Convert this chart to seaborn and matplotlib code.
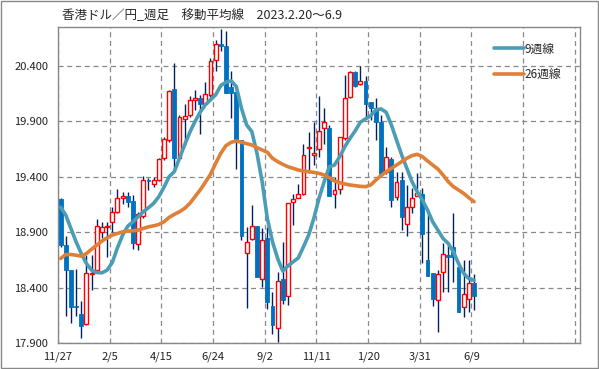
import matplotlib
matplotlib.use("Agg")
import matplotlib.pyplot as plt
from matplotlib.patches import Rectangle
import seaborn as sns
import pandas as pd
import numpy as np

# weekly candles (index 0 = week of 11/27)
opens = [19.198, 18.783, 18.557, 18.235, 18.165, 18.075, 18.520, 18.557, 18.903, 18.950,
         18.993, 19.084, 19.210, 19.230, 19.180, 18.789, 19.042, 19.370, 19.330, 19.373,
         19.566, 19.731, 20.192, 19.572, 19.924, 19.954, 20.090, 20.108, 20.060, 20.138,
         20.454, 20.596, 20.580, 20.213, 20.168, 19.731, 18.713, 18.834, 18.954, 18.475,
         18.849, 18.231, 18.036, 18.475, 18.325, 19.174, 19.204, 19.240, 19.660, 19.596,
         19.647, 19.837, 19.837, 19.240, 19.286, 19.746, 20.123, 20.343, 20.240, 20.264,
         20.072, 20.017, 19.897, 19.439, 19.557, 19.219, 19.370, 18.969, 19.129, 19.228,
         19.240, 18.653, 18.527, 18.286, 18.536, 18.690, 18.764, 18.581, 18.225, 18.301,
         18.442]
closes = [18.783, 18.557, 18.225, 18.225, 18.054, 18.527, 18.530, 18.951, 18.942, 18.955,
          19.084, 19.204, 19.230, 19.174, 18.804, 19.060, 19.367, 19.360, 19.367, 19.557,
          19.737, 20.174, 19.566, 19.936, 19.948, 20.090, 20.108, 20.060, 20.144, 20.445,
          20.596, 20.575, 20.159, 20.159, 19.731, 18.864, 18.807, 18.954, 18.496, 18.828,
          18.271, 18.066, 18.460, 18.286, 19.159, 19.198, 19.240, 19.596, 19.665, 19.617,
          19.813, 19.891, 19.228, 19.280, 19.755, 20.108, 20.343, 20.222, 20.264, 20.054,
          20.017, 19.897, 19.421, 19.575, 19.189, 19.349, 19.039, 19.123, 19.204, 19.249,
          18.882, 18.505, 18.301, 18.518, 18.704, 18.680, 18.677, 18.180, 18.346, 18.445,
          18.325]
highs = [19.210, 18.867, 18.560, 18.563, 18.283, 18.692, 18.692, 19.014, 18.993, 18.993,
         19.129, 19.289, 19.264, 19.264, 19.234, 19.084, 19.409, 19.385, 19.394, 19.566,
         19.761, 20.180, 20.424, 19.957, 20.060, 20.132, 20.180, 20.138, 20.252, 20.469,
         20.635, 20.731, 20.710, 20.349, 20.183, 19.731, 18.948, 19.144, 18.954, 18.933,
         18.948, 18.361, 18.536, 18.813, 19.159, 19.240, 19.330, 19.695, 19.800, 19.897,
         20.129, 20.017, 19.867, 19.400, 19.755, 20.319, 20.355, 20.355, 20.400, 20.304,
         20.072, 20.108, 19.957, 19.671, 19.575, 19.445, 19.445, 19.325, 19.300, 19.430,
         19.295, 19.084, 18.527, 18.557, 18.798, 18.783, 19.069, 18.581, 18.647, 18.647,
         18.518]
lows = [18.770, 18.144, 18.081, 18.144, 17.945, 18.060, 18.382, 18.548, 18.843, 18.677,
        18.897, 19.069, 19.150, 19.129, 18.752, 18.737, 19.024, 19.280, 19.310, 19.360,
        19.550, 19.716, 19.469, 19.566, 19.686, 19.942, 20.000, 19.783, 20.048, 20.123,
        20.349, 20.530, 20.153, 19.927, 19.469, 18.828, 18.216, 18.828, 18.496, 18.406,
        18.210, 17.984, 17.909, 18.255, 18.240, 18.963, 19.204, 19.234, 19.430, 19.505,
        19.580, 19.692, 19.228, 19.114, 19.240, 19.731, 20.108, 20.213, 20.228, 19.921,
        19.912, 19.731, 19.400, 19.421, 19.129, 19.189, 18.918, 18.867, 19.069, 19.228,
        18.626, 18.505, 18.234, 17.995, 18.361, 18.361, 18.451, 18.180, 18.135, 18.180,
        18.195]

# moving averages as drawn on the reference
ma9 = [19.125, 19.054, 18.933, 18.813, 18.707, 18.617, 18.557, 18.536, 18.533, 18.557,
       18.626, 18.758, 18.873, 18.954, 18.993, 19.039, 19.084, 19.120, 19.159, 19.219,
       19.305, 19.400, 19.445, 19.566, 19.686, 19.800, 19.897, 19.981, 20.048, 20.093,
       20.138, 20.222, 20.252, 20.264, 20.213, 20.017, 19.867, 19.807, 19.611, 19.355,
       19.024, 18.813, 18.662, 18.548, 18.596, 18.632, 18.668, 18.768, 18.873, 19.024,
       19.204, 19.355, 19.490, 19.505, 19.580, 19.671, 19.746, 19.813, 19.891, 19.921,
       19.950, 20.002, 20.011, 19.981, 19.867, 19.731, 19.596, 19.475, 19.355, 19.264,
       19.189, 19.099, 18.993, 18.918, 18.843, 18.798, 18.723, 18.617, 18.527, 18.481,
       18.466]
ma26 = [18.662, 18.698, 18.698, 18.692, 18.683, 18.707, 18.746, 18.783, 18.819, 18.849,
        18.873, 18.888, 18.903, 18.909, 18.912, 18.918, 18.933, 18.948, 18.957, 18.969,
        18.993, 19.033, 19.060, 19.084, 19.114, 19.159, 19.219, 19.280, 19.349, 19.421,
        19.520, 19.611, 19.680, 19.710, 19.722, 19.710, 19.698, 19.686, 19.662, 19.641,
        19.620, 19.566, 19.536, 19.511, 19.490, 19.475, 19.460, 19.451, 19.445, 19.439,
        19.430, 19.415, 19.391, 19.361, 19.346, 19.334, 19.325, 19.319, 19.313, 19.310,
        19.325, 19.370, 19.409, 19.445, 19.475, 19.505, 19.536, 19.566, 19.590, 19.602,
        19.581, 19.542, 19.505, 19.469, 19.415, 19.355, 19.310, 19.280, 19.249, 19.210,
        19.174]

x_labels = ["11/27", "2/5", "4/15", "6/24", "9/2", "11/11", "1/20", "3/31", "6/9", "", ""]
y_ticks = [17.9, 18.4, 18.9, 19.4, 19.9, 20.4]
title = "香港ドル／円_週足　移動平均線　2023.2.20～6.9"

sns.set_style("whitegrid")
plt.rcParams['font.family'] = ['Noto Sans CJK JP', 'DejaVu Sans']

df = pd.DataFrame({"open": opens, "high": highs, "low": lows, "close": closes,
                   "ma9": ma9, "ma26": ma26})
df["x"] = np.arange(len(df)) + 0.5

fig = plt.figure(figsize=(5.99, 3.69), dpi=100)
ax = fig.add_axes([58/599, 1 - 343/369, (580-58)/599, (343-27)/369])

up = df[df.close >= df.open]
down = df[df.close < df.open]
ax.vlines(df.x, df.low, df.high, color="#002060", lw=1, zorder=2)
ax.bar(down.x, down.close - down.open, bottom=down.open, width=0.75,
       color="#0070C0", edgecolor="#0070C0", lw=0.6, zorder=3)
ax.bar(up.x, (up.close - up.open).clip(lower=0.008), bottom=up.open, width=0.75,
       color="white", edgecolor="#FF0000", lw=1, zorder=3)

sns.lineplot(data=df, x="x", y="ma9", ax=ax, color="#4A9DB5", lw=2.6,
             label="9週線", zorder=4)
sns.lineplot(data=df, x="x", y="ma26", ax=ax, color="#E07F36", lw=2.6,
             label="26週線", zorder=4)

ax.set_xlim(0, 101)
ax.set_ylim(17.9, 20.75)
ax.set_xticks(np.arange(0, 101, 10))
ax.set_xticklabels(x_labels)
ax.set_yticks(y_ticks)
ax.set_yticklabels([f"{v:.3f}" for v in y_ticks])
ax.set_xlabel("")
ax.set_ylabel("")
ax.tick_params(axis="both", labelsize=8, colors="#222222", length=4,
               color="#888888", direction="out", width=1)
ax.tick_params(axis="x", pad=2)
ax.tick_params(axis="y", pad=3)
ax.grid(True, color="#888888", ls=(0, (4, 3)), lw=0.9)
for s in ax.spines.values():
    s.set_color("#888888")
    s.set_linewidth(1)

leg = ax.legend(loc="upper right", frameon=False, fontsize=8.5,
                handlelength=2.5, handletextpad=0.1, labelspacing=1.1,
                bbox_to_anchor=(0.985, 0.985))

fig.text(62/599, 1 - 16/369, title, fontsize=9, va="center", ha="left")
fig.patches.append(Rectangle((0.001, 0.002), 0.997, 0.995, transform=fig.transFigure,
                             fill=False, edgecolor="#888888", lw=1))

fig.savefig("out.png", dpi=100)
